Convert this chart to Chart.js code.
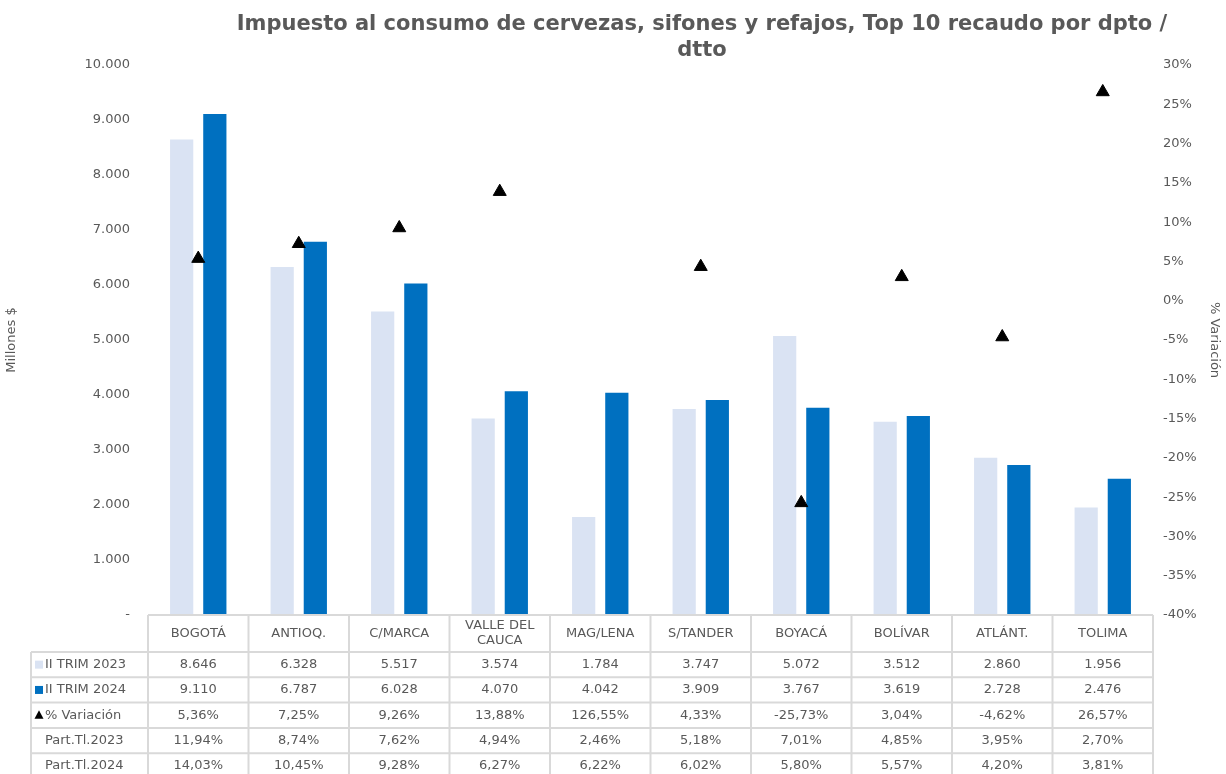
<!DOCTYPE html>
<html>
<head>
<meta charset="utf-8">
<script src="https://cdn.jsdelivr.net/npm/chart.js@4"></script>
<style>
  html, body { margin: 0; padding: 0; background: #fff; }
  #wrap { width: 1226px; height: 774px; }
</style>
</head>
<body>
<div id="wrap"><canvas id="dataChart" width="1226" height="774"></canvas></div>
<script>
let categories = ['BOGOTÁ', 'ANTIOQ.', 'C/MARCA', ['VALLE DEL', 'CAUCA'], 'MAG/LENA', 'S/TANDER', 'BOYACÁ', 'BOLÍVAR', 'ATLÁNT.', 'TOLIMA'];
let trim2023 = [8646, 6328, 5517, 3574, 1784, 3747, 5072, 3512, 2860, 1956];
let trim2024 = [9110, 6787, 6028, 4070, 4042, 3909, 3767, 3619, 2728, 2476];
let variacion = [5.36, 7.25, 9.26, 13.88, 126.55, 4.33, -25.73, 3.04, -4.62, 26.57];
let part2023 = [11.94, 8.74, 7.62, 4.94, 2.46, 5.18, 7.01, 4.85, 3.95, 2.70];
let part2024 = [14.03, 10.45, 9.28, 6.27, 6.22, 6.02, 5.80, 5.57, 4.20, 3.81];

let titleLines = ['Impuesto al consumo de cervezas, sifones y refajos, Top 10 recaudo por dpto /', 'dtto'];

let textColor = '#595959';
let lightBlue = '#dae3f3';
let darkBlue = '#0070c0';
let fontFamily = '"DejaVu Sans", Verdana, sans-serif';

function fmtMiles(v) {
    return String(v).replace(/\B(?=(\d{3})+(?!\d))/g, '.');
}

function fmtPct(v) {
    return v.toFixed(2).replace('.', ',') + '%';
}

// table rows under the plot: label, key type, values
let tableRows = [
    { label: 'II TRIM 2023', key: 'light', values: trim2023.map(fmtMiles) },
    { label: 'II TRIM 2024', key: 'dark', values: trim2024.map(fmtMiles) },
    { label: '% Variación', key: 'triangle', values: variacion.map(fmtPct) },
    { label: 'Part.Tl.2023', key: null, values: part2023.map(fmtPct) },
    { label: 'Part.Tl.2024', key: null, values: part2024.map(fmtPct) },
];

let tablePlugin = {
    id: 'dataTable',
    afterDraw(chart) {
        let ctx = chart.ctx;
        let area = chart.chartArea;
        let x = chart.scales.x;
        let n = categories.length;
        let colW = (area.right - area.left) / n;
        let headerH = 37;
        let rowH = 25.3;
        let tableLeft = 31;
        let top = area.bottom;

        ctx.save();
        ctx.strokeStyle = '#d9d9d9';
        ctx.lineWidth = 2;

        // header row
        ctx.beginPath();
        ctx.moveTo(area.left, top);
        ctx.lineTo(area.right, top);
        for (let i = 0; i <= n; i++) {
            let cx = area.left + i * colW;
            ctx.moveTo(cx, top);
            ctx.lineTo(cx, top + headerH + rowH * tableRows.length);
        }
        for (let r = 0; r <= tableRows.length; r++) {
            let ry = top + headerH + r * rowH;
            ctx.moveTo(tableLeft, ry);
            ctx.lineTo(area.right, ry);
        }
        ctx.moveTo(tableLeft, top + headerH);
        ctx.lineTo(tableLeft, top + headerH + rowH * tableRows.length);
        ctx.stroke();

        ctx.font = '13px ' + fontFamily;
        ctx.fillStyle = textColor;
        ctx.textAlign = 'center';
        ctx.textBaseline = 'middle';

        categories.forEach((cat, i) => {
            let cx = x.getPixelForValue(i);
            let lines = Array.isArray(cat) ? cat : [cat];
            let cy = top + headerH / 2;
            lines.forEach((ln, k) => {
                ctx.fillText(ln, cx, cy + (k - (lines.length - 1) / 2) * 15);
            });
        });

        tableRows.forEach((row, r) => {
            let cy = top + headerH + r * rowH + rowH / 2;
            row.values.forEach((v, i) => {
                ctx.fillText(v, x.getPixelForValue(i), cy);
            });
            if (row.key === 'light' || row.key === 'dark') {
                ctx.fillStyle = row.key === 'light' ? lightBlue : darkBlue;
                ctx.fillRect(35, cy - 4, 8, 8);
            } else if (row.key === 'triangle') {
                ctx.fillStyle = '#000';
                ctx.beginPath();
                ctx.moveTo(39, cy - 5);
                ctx.lineTo(43.5, cy + 3.5);
                ctx.lineTo(34.5, cy + 3.5);
                ctx.closePath();
                ctx.fill();
            }
            ctx.fillStyle = textColor;
            ctx.textAlign = 'left';
            ctx.fillText(row.label, 45, cy);
            ctx.textAlign = 'center';
        });

        // title
        ctx.font = 'bold 21px ' + fontFamily;
        ctx.fillStyle = textColor;
        ctx.fillText(titleLines[0], 702, 25);
        ctx.fillText(titleLines[1], 702, 51);
        ctx.restore();
    }
};

let ctx = document.getElementById('dataChart').getContext('2d');
new Chart(ctx, {
    type: 'bar',
    data: {
        labels: categories,
        datasets: [{
            label: 'II TRIM 2023',
            data: trim2023,
            backgroundColor: lightBlue,
            yAxisID: 'y',
            order: 1,
            categoryPercentage: 0.66,
            barPercentage: 0.7
        }, {
            label: 'II TRIM 2024',
            data: trim2024,
            backgroundColor: darkBlue,
            yAxisID: 'y',
            order: 1,
            categoryPercentage: 0.66,
            barPercentage: 0.7
        }, {
            type: 'line',
            label: '% Variación',
            data: variacion,
            yAxisID: 'y1',
            showLine: false,
            pointStyle: 'triangle',
            pointRadius: 7.5,
            pointBackgroundColor: '#000',
            pointBorderColor: '#000',
            borderColor: '#000',
            order: 0
        }]
    },
    options: {
        responsive: false,
        animation: false,
        layout: { padding: { top: 65, bottom: 159, left: 0, right: 0 } },
        plugins: {
            legend: { display: false },
            title: { display: false },
            tooltip: { enabled: false }
        },
        scales: {
            x: { display: false },
            y: {
                position: 'left',
                min: 0,
                max: 10000,
                grid: { display: false, drawTicks: false },
                border: { display: false },
                ticks: {
                    stepSize: 1000,
                    padding: 18,
                    color: textColor,
                    font: { size: 13, family: fontFamily },
                    callback: v => v === 0 ? '-' : fmtMiles(v)
                },
                title: {
                    display: true,
                    text: 'Millones $',
                    color: textColor,
                    font: { size: 13, family: fontFamily }
                },
                afterFit: scale => { scale.width = 148; }
            },
            y1: {
                position: 'right',
                min: -40,
                max: 30,
                grid: { display: false, drawTicks: false },
                border: { display: false },
                ticks: {
                    stepSize: 5,
                    padding: 10,
                    color: textColor,
                    font: { size: 13, family: fontFamily },
                    callback: v => Math.round(v) + '%'
                },
                title: {
                    display: true,
                    text: '% Variación',
                    color: textColor,
                    font: { size: 13, family: fontFamily },
                    padding: { top: 4, bottom: 0 }
                },
                afterFit: scale => { scale.width = 73; }
            }
        }
    },
    plugins: [tablePlugin]
});
</script>
</body>
</html>
